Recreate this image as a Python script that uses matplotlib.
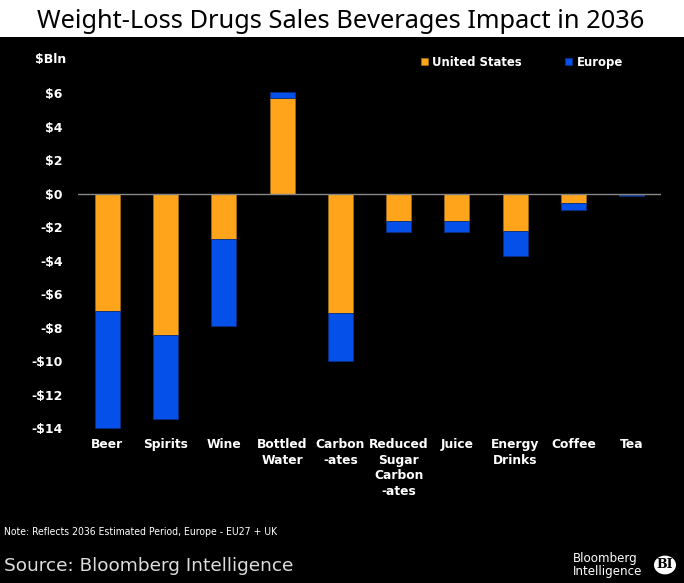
import matplotlib
matplotlib.use("Agg")
import matplotlib.pyplot as plt
from matplotlib.patches import Circle

categories = ["Beer", "Spirits", "Wine", "Bottled\nWater", "Carbon\n-ates",
              "Reduced\nSugar\nCarbon\n-ates", "Juice", "Energy\nDrinks", "Coffee", "Tea"]
us_values = [-7.0, -8.45, -2.72, 5.73, -7.13, -1.62, -1.62, -2.22, -0.52, -0.05]
europe_values = [-7.0, -5.0, -5.15, 0.33, -2.85, -0.68, -0.66, -1.46, -0.46, -0.09]
yticks = [6, 4, 2, 0, -2, -4, -6, -8, -10, -12, -14]
ytick_labels = ["$6", "$4", "$2", "$0", "-$2", "-$4", "-$6", "-$8", "-$10", "-$12", "-$14"]

US_COLOR = "#FFA41B"
EU_COLOR = "#0550E8"

fig = plt.figure(figsize=(6.84, 5.83), dpi=100, facecolor="black")
W, H = 684, 583

# white title band
fig.patches.append(plt.Rectangle((0, 1 - 37 / H), 1, 37 / H, transform=fig.transFigure,
                                 facecolor="white", edgecolor="none", zorder=0))
fig.text(341 / W, 1 - 28 / H, "Weight-Loss Drugs Sales Beverages Impact in 2036",
         ha="center", va="baseline", fontsize=18.3, color="black", family="Noto Sans")

ax = fig.add_axes([78 / W, 1 - 430 / H, (661 - 78) / W, (430 - 60) / H])
ax.set_facecolor("black")
x = list(range(len(categories)))
width = 0.43
ax.bar(x, us_values, width, color=US_COLOR, edgecolor="#9a6a10", linewidth=0.6,
       label="United States", zorder=2)
bottoms = [u if (u < 0) == (e < 0) else 0 for u, e in zip(us_values, europe_values)]
ax.bar(x, europe_values, width, bottom=bottoms, color=EU_COLOR, edgecolor="#0a2f80",
       linewidth=0.6, label="Europe", zorder=2)
ax.axhline(0, color="#888888", linewidth=1.0, zorder=3)

ax.set_xlim(-0.5, len(categories) - 0.5)
ax.set_ylim(-14.1, 8.0)
ax.set_yticks(yticks)
ax.set_yticklabels(ytick_labels, fontsize=9, fontweight="bold", color="white")
ax.set_xticks(x)
ax.set_xticklabels(categories, fontsize=8.8, fontweight="bold", color="white",
                   linespacing=1.25, va="top")
ax.tick_params(axis="y", length=0, pad=11)
ax.tick_params(axis="x", length=0, pad=6)
for s in ax.spines.values():
    s.set_visible(False)

fig.text(66 / W, 1 - 59 / H, "$Bln", ha="right", va="center", fontsize=9,
         fontweight="bold", color="white")

leg = ax.legend(loc="upper left", bbox_to_anchor=((416 - 78) / (661 - 78), 1.024),
                ncol=2, frameon=False, fontsize=8.4, handlelength=0.6, handleheight=0.6,
                handletextpad=0.4, columnspacing=3.7, borderaxespad=0)
for t in leg.get_texts():
    t.set_color("white")
    t.set_fontweight("bold")

fig.text(4 / W, 1 - 532 / H, "Note: Reflects 2036 Estimated Period, Europe - EU27 + UK",
         ha="left", va="center", fontsize=7.5, color="white", fontstretch="condensed")
fig.text(4 / W, 1 - 566 / H, "Source: Bloomberg Intelligence", ha="left", va="center",
         fontsize=13.3, color="#dddddd")
fig.text(573 / W, 1 - 565 / H, "Bloomberg\nIntelligence", ha="left", va="center",
         fontsize=8.6, color="white", linespacing=1.05)
circ = Circle((665 / W, 1 - 565 / H), 11 / W, transform=fig.transFigure,
              facecolor="white", edgecolor="none")
fig.patches.append(circ)
fig.text(665 / W, 1 - 565 / H, "BI", ha="center", va="center", fontsize=9,
         fontweight="bold", color="black", family="DejaVu Serif")

fig.savefig("out.png", dpi=100, facecolor="black")
